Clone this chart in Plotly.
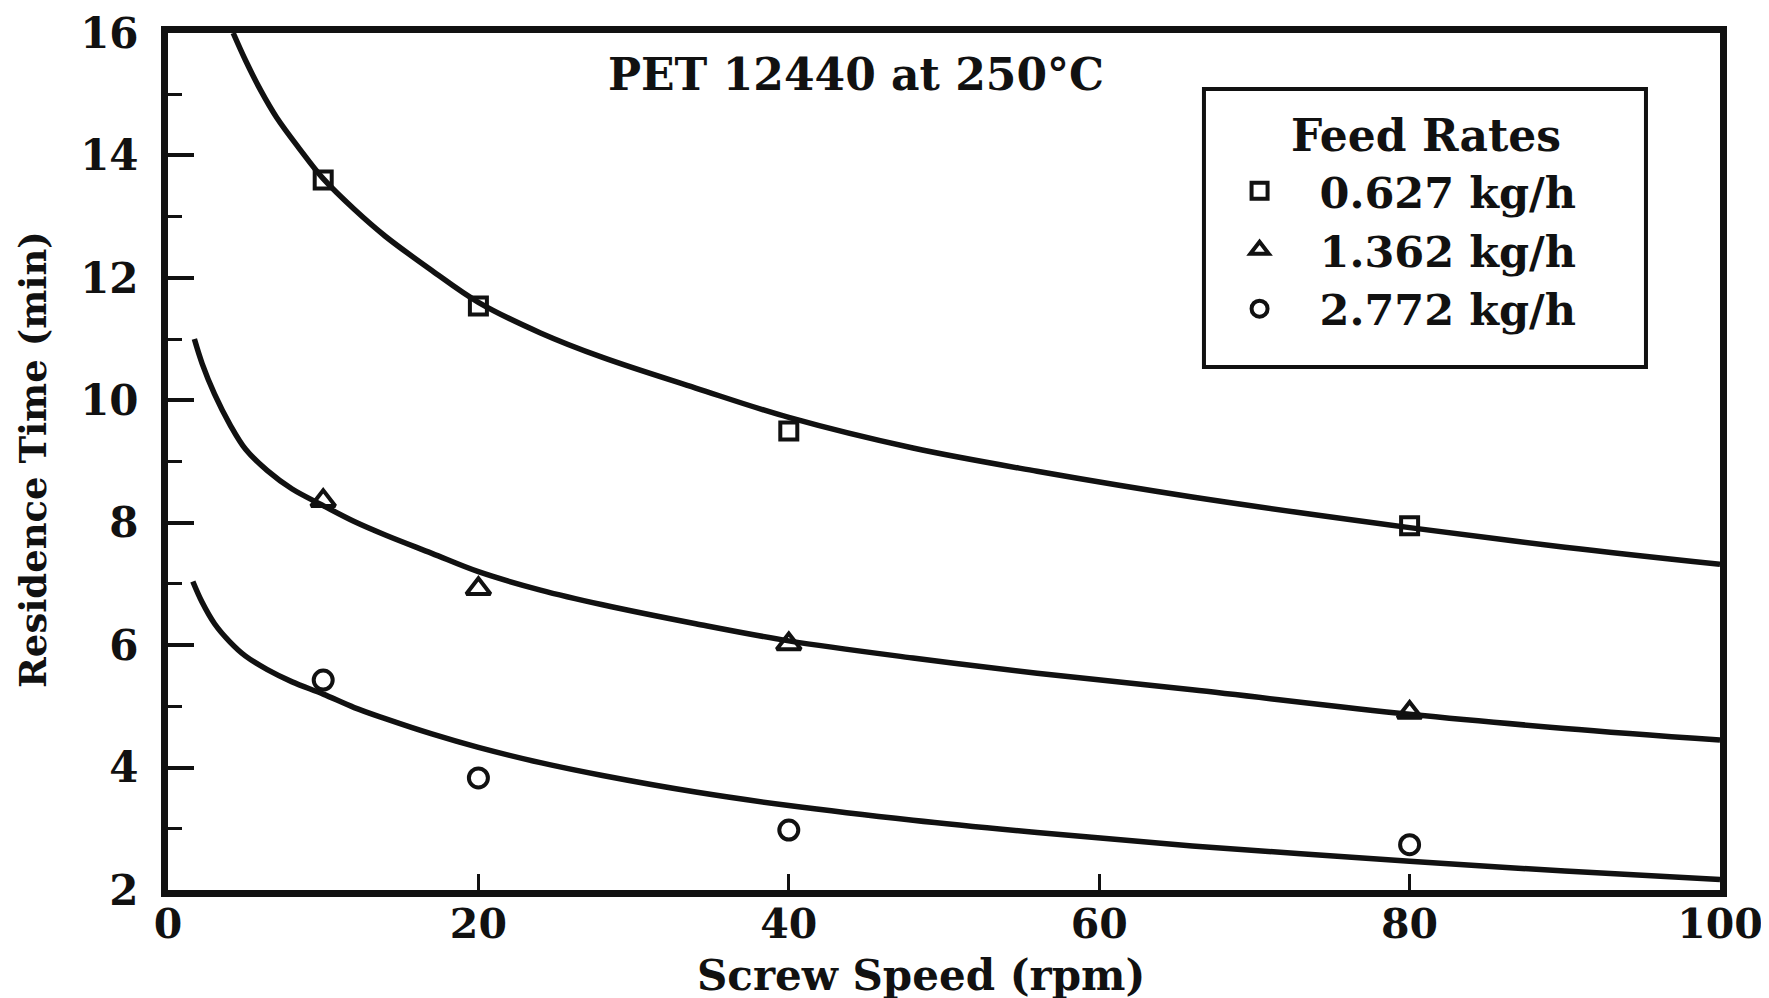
import plotly.graph_objects as go

# Measured data (Screw speed, rpm)
speed = [10, 20, 40, 80]
res_0627 = [13.6, 11.54, 9.5, 7.95]
res_1362 = [8.36, 6.92, 6.02, 4.90]
res_2772 = [5.43, 3.83, 2.98, 2.74]

# Fitted curves
fit_top_x = [4.2, 5, 6, 7, 8.5, 10, 12, 14, 17, 20, 24, 28, 34, 40, 48, 56, 66, 80, 90, 100]
fit_top_y = [16.0, 15.55, 15.05, 14.62, 14.1, 13.62, 13.12, 12.68, 12.12, 11.6, 11.1, 10.7,
             10.2, 9.72, 9.22, 8.84, 8.42, 7.92, 7.6, 7.32]
fit_mid_x = [1.7, 2.2, 3, 4, 5, 6.4, 8, 10, 12, 14, 17, 20, 24, 28, 34, 40, 48, 56, 66, 80, 90, 100]
fit_mid_y = [11.0, 10.6, 10.1, 9.6, 9.2, 8.85, 8.55, 8.28, 8.02, 7.8, 7.5, 7.2, 6.9, 6.66,
             6.35, 6.07, 5.79, 5.54, 5.27, 4.87, 4.64, 4.45]
fit_bot_x = [1.6, 2.2, 3, 4, 5, 6.4, 8, 10, 12, 14, 17, 20, 24, 28, 34, 40, 48, 56, 66, 80, 90, 100]
fit_bot_y = [7.04, 6.7, 6.35, 6.05, 5.82, 5.6, 5.4, 5.2, 4.98, 4.8, 4.55, 4.33, 4.08, 3.87,
             3.6, 3.38, 3.14, 2.94, 2.72, 2.47, 2.31, 2.17]

labels = ["0.627 kg/h", "1.362 kg/h", "2.772 kg/h"]
x_ticks = [0, 20, 40, 60, 80, 100]
y_ticks = [2, 4, 6, 8, 10, 12, 14, 16]

FONT = "DejaVu Serif"
ink = "#111111"

fig = go.Figure()
for fx, fy in [(fit_top_x, fit_top_y), (fit_mid_x, fit_mid_y), (fit_bot_x, fit_bot_y)]:
    fig.add_trace(go.Scatter(x=fx, y=fy, mode="lines", showlegend=False, hoverinfo="skip",
                             line=dict(color=ink, width=5.5, shape="spline", smoothing=1.0)))

for ys, sym, sz, name in [(res_0627, "square-open", 17, labels[0]),
                          (res_1362, "triangle-up-open", 21, labels[1]),
                          (res_2772, "circle-open", 19, labels[2])]:
    fig.add_trace(go.Scatter(x=speed, y=ys, mode="markers", name="\u00a0\u00a0" + name,
                             marker=dict(symbol=sym, size=sz, color=ink, line=dict(width=4, color=ink))))

fig.update_layout(
    width=1769, height=998,
    margin=dict(l=160, r=57, t=25, b=116, autoexpand=False),
    paper_bgcolor="white", plot_bgcolor="white",
    font=dict(family=FONT, color=ink, size=40),
    legend=dict(
        x=0.684, y=0.856, xanchor="left", yanchor="top",
        borderwidth=0, bgcolor="rgba(0,0,0,0)",
        font=dict(size=43, family=FONT, weight="bold"),
        itemwidth=50, tracegroupgap=0,
    ),
    xaxis=dict(range=[0, 100], tickvals=x_ticks, ticks="inside", ticklen=16, tickwidth=3,
               tickcolor=ink, showline=True, linewidth=7, linecolor=ink, mirror=True,
               showgrid=False, zeroline=False, ticklabelstandoff=-8, automargin=False,
               tickfont=dict(size=41, family=FONT, weight="bold")),
    yaxis=dict(range=[2, 16], tickvals=y_ticks, ticks="inside", ticklen=26, tickwidth=4,
               tickcolor=ink, showline=True, linewidth=7, linecolor=ink, mirror=True,
               showgrid=False, zeroline=False, ticklabelstandoff=14, automargin=False,
               tickfont=dict(size=42, family=FONT, weight="bold"),
               minor=dict(dtick=1, ticks="inside", ticklen=14, tickwidth=3, tickcolor=ink, showgrid=False)),
    shapes=[
        dict(type="rect", xref="paper", yref="paper", x0=0.6675, x1=0.9523, y0=0.6103, y1=0.9347,
             line=dict(color=ink, width=4), fillcolor="white", layer="below"),
    ],
    annotations=[
        dict(text="<b>PET 12440 at 250°C</b>", x=0.443, y=0.952, xref="paper", yref="paper",
             xanchor="center", yanchor="middle", showarrow=False, font=dict(size=44, family=FONT)),
        dict(text="<b>Feed Rates</b>", x=0.8106, y=0.88, xref="paper", yref="paper",
             xanchor="center", yanchor="middle", showarrow=False, font=dict(size=44, family=FONT)),
        dict(text="<b>Screw Speed (rpm)</b>", x=0.485, y=-0.1, xref="paper", yref="paper",
             xanchor="center", yanchor="middle", showarrow=False, font=dict(size=42, family=FONT)),
        dict(text="<b>Residence Time (min)</b>", x=-0.087, y=0.503, xref="paper", yref="paper",
             xanchor="center", yanchor="middle", showarrow=False, textangle=-90,
             font=dict(size=37, family=FONT)),
    ],
)

fig.write_html("out.html")
